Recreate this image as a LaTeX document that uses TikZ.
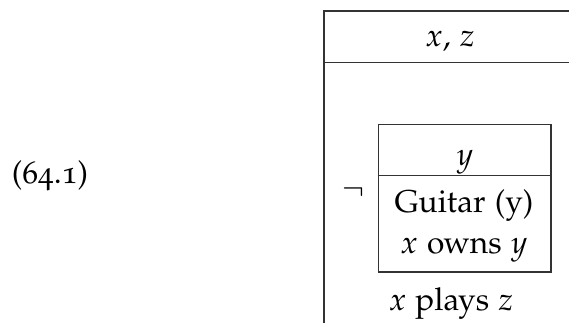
\documentclass[tikz,border=0pt]{standalone}
\usepackage[T1]{fontenc}
\usepackage[osf]{mathpazo}
\tikzset{
  drsline/.style={draw=black!80, line width=1.2pt},
  lbl/.style={anchor=base, inner sep=0pt, font=\fontsize{31.6}{38}\selectfont}
}
\begin{document}
\begin{tikzpicture}[x=1pt,y=-1pt]
\useasboundingbox (0,0) rectangle (569,323);
\clip (0,0) rectangle (569,323);
% outer box (cut off at right and bottom)
\coordinate (otl) at (324,11);
\coordinate (otr) at (600,11);
\coordinate (odl) at (324,62.3);
\coordinate (odr) at (600,62.3);
\coordinate (obl) at (324,340);
\draw[drsline] (otr) -- (otl) -- (obl);
\draw[drsline] (odl) -- (odr);
% inner box
\coordinate (itl) at (378.7,124.7);
\coordinate (ibr) at (551,272);
\coordinate (idl) at (378.7,175.7);
\coordinate (idr) at (551,175.7);
\draw[drsline] (itl) rectangle (ibr);
\draw[drsline] (idl) -- (idr);
% texts
\node[lbl] (ref) at (50,183) {(64.1)};
\node[lbl] (xz) at (450,47) {$x$, $z$};
\node[lbl] (y) at (465,165) {$y$};
\node[lbl] (neg) at (353,199) {$\neg$};
\node[lbl] (guitar) at (464,212) {Guitar (y)};
\node[lbl] (owns) at (464,253) {$x$ owns $y$};
\node[lbl] (plays) at (451,310) {$x$ plays $z$};
\end{tikzpicture}
\end{document}
